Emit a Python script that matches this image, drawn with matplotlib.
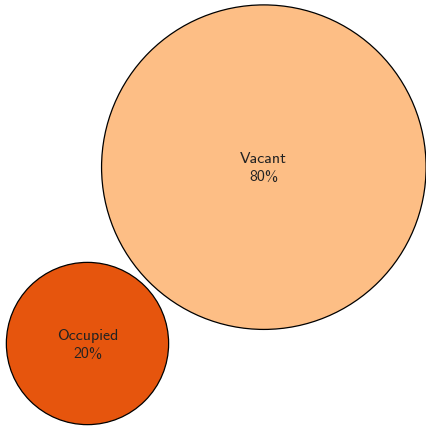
import numpy as np
import matplotlib
matplotlib.use('Agg')
import matplotlib.pyplot as plt
from matplotlib.patches import Circle

# data
labels = ['Vacant', 'Occupied']
shares = [80, 20]
colors = ['#fdbe85', '#e6550d']

# radius proportional to sqrt of share (area ~ value)
radii = [np.sqrt(s) for s in shares]
pad = 0.33
d = radii[0] + radii[1] + pad
ang = np.deg2rad(225)
centers = [(0.0, 0.0), (d * np.cos(ang), d * np.sin(ang))]

fig = plt.figure(figsize=(4.27, 4.27), dpi=100)
ax = fig.add_axes([0, 0, 1, 1])

for (cx, cy), r, lab, s, c in zip(centers, radii, labels, shares, colors):
    ax.add_patch(Circle((cx, cy), r, facecolor=c, edgecolor='black', linewidth=0.9))
    ax.text(cx, cy, f"{lab}\n{s}%", ha='center', va='center', fontsize=11.5,
            family=['cmss10', 'DejaVu Sans'], color='#222222', linespacing=1.35)

# bounding box of the circles, with a small margin
left = min(cx - r for (cx, cy), r in zip(centers, radii))
right = max(cx + r for (cx, cy), r in zip(centers, radii))
bottom = min(cy - r for (cx, cy), r in zip(centers, radii))
top = max(cy + r for (cx, cy), r in zip(centers, radii))
ax.set_xlim(left - 0.35, right + 0.05)
ax.set_ylim(bottom - 0.05, top + 0.3)
ax.set_aspect('equal')
ax.axis('off')

fig.savefig('out.png', dpi=100)
